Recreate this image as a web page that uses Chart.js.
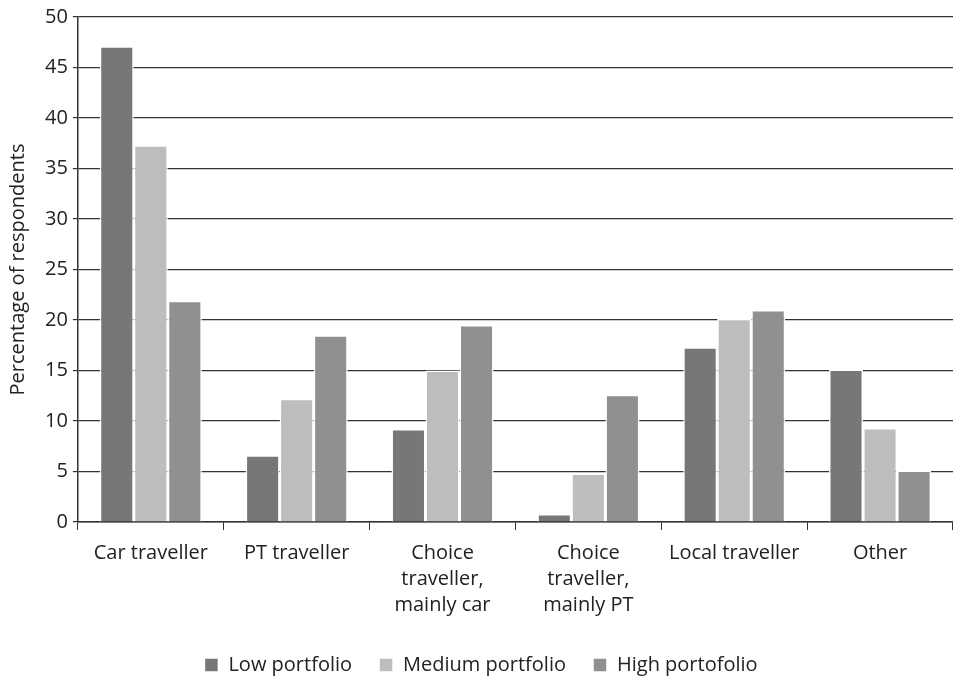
<!DOCTYPE html>
<html>
<head>
<meta charset="utf-8">
<script src="https://cdn.jsdelivr.net/npm/chart.js@4"></script>
<style>
  html, body { margin: 0; padding: 0; background: #fff; }
  #wrap { width: 953px; height: 679px; }
</style>
</head>
<body>
<div id="wrap"><canvas id="travellerChart"></canvas></div>
<script>
const categories = [
    'Car traveller',
    'PT traveller',
    ['Choice', 'traveller,', 'mainly car'],
    ['Choice', 'traveller,', 'mainly PT'],
    'Local traveller',
    'Other'
];
const lowPortfolio = [47.1, 6.6, 9.2, 0.8, 17.3, 15.1];
const mediumPortfolio = [37.3, 12.2, 15.0, 4.8, 20.1, 9.3];
const highPortfolio = [21.9, 18.5, 19.5, 12.6, 21.0, 5.1];
const yTicks = [0, 5, 10, 15, 20, 25, 30, 35, 40, 45, 50];

Chart.defaults.font.family = '"Open Sans", "Noto Sans", sans-serif';
Chart.defaults.font.size = 20;
Chart.defaults.color = '#222';

function displayTravellerChart() {
    const ctx = document.getElementById('travellerChart').getContext('2d');
    new Chart(ctx, {
        type: 'bar',
        data: {
            labels: categories,
            datasets: [{
                label: 'Low portfolio',
                data: lowPortfolio,
                backgroundColor: '#787676',
                borderColor: '#ffffff',
                borderWidth: 1.5
            }, {
                label: 'Medium portfolio',
                data: mediumPortfolio,
                backgroundColor: '#bdbdbd',
                borderColor: '#ffffff',
                borderWidth: 1.5
            }, {
                label: 'High portofolio',
                data: highPortfolio,
                backgroundColor: '#918f8f',
                borderColor: '#ffffff',
                borderWidth: 1.5
            }]
        },
        options: {
            responsive: true,
            maintainAspectRatio: false,
            animation: false,
            categoryPercentage: 0.70,
            barPercentage: 1.0,
            layout: {
                padding: { left: 6, right: -3, top: 2, bottom: -6 }
            },
            scales: {
                x: {
                    grid: {
                        offset: true,
                        drawOnChartArea: false,
                        color: '#333',
                        tickLength: 8
                    },
                    border: { color: '#333', width: 1.5 },
                    ticks: {
                        maxRotation: 0,
                        padding: 10,
                        font: { lineHeight: 1.3 }
                    }
                },
                y: {
                    min: 0,
                    max: 50,
                    afterBuildTicks: axis => {
                        axis.ticks = yTicks.map(v => ({ value: v }));
                    },
                    grid: {
                        color: '#333',
                        lineWidth: 1.2,
                        tickLength: 5
                    },
                    border: { color: '#333', width: 1.5 },
                    ticks: { padding: 5 },
                    title: {
                        display: true,
                        text: 'Percentage of respondents',
                        padding: { top: 0, bottom: 10 }
                    }
                }
            },
            plugins: {
                legend: {
                    position: 'bottom',
                    labels: {
                        boxWidth: 14,
                        boxHeight: 14,
                        padding: 27,
                        useBorderRadius: false
                    }
                },
                tooltip: { enabled: false }
            }
        }
    });
}

displayTravellerChart();
</script>
</body>
</html>
